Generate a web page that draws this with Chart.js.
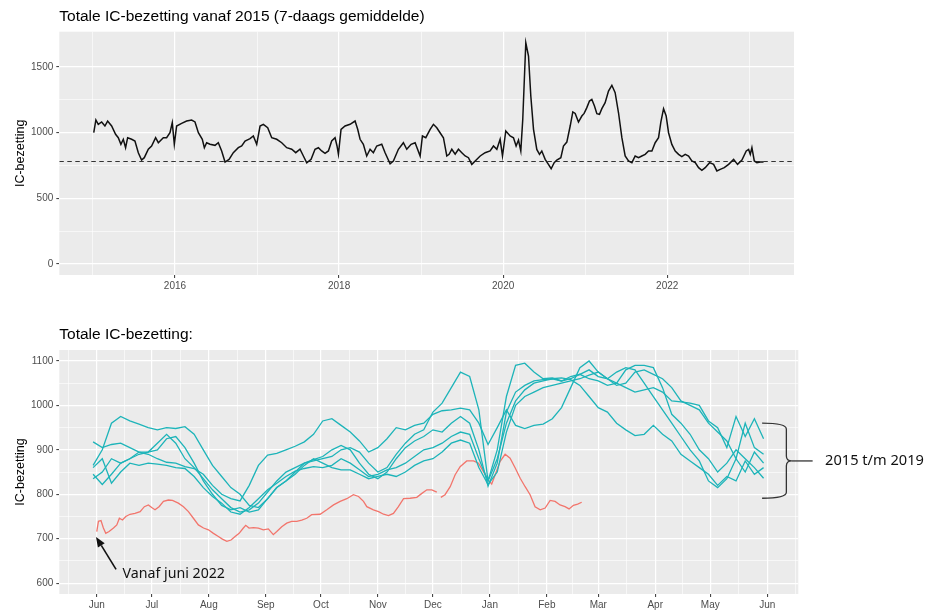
<!DOCTYPE html>
<html><head><meta charset="utf-8">
<script src="https://cdn.jsdelivr.net/npm/chart.js@4/dist/chart.umd.min.js"></script>
<style>
html,body{margin:0;padding:0;background:#fff;}
#wrap{position:relative;width:925px;height:613px;overflow:hidden;}
.box{position:absolute;left:0;width:925px;}
</style></head><body>
<div id="wrap">
<div class="box" style="top:0;height:300px"><canvas id="c1" width="925" height="300"></canvas></div>
<div class="box" style="top:300px;height:313px"><canvas id="c2" width="925" height="313"></canvas></div>
</div>
<script>
// ---------- DATA: top chart (7-day average since 2015) ----------
const topYears = [2015.01,2015.036,2015.065,2015.106,2015.146,2015.179,2015.228,2015.276,2015.309,2015.341,2015.37,2015.398,2015.423,2015.472,2015.512,2015.553,2015.593,2015.626,2015.675,2015.715,2015.764,2015.797,2015.858,2015.898,2015.939,2015.967,2015.992,
2016.02,2016.081,2016.142,2016.203,2016.244,2016.285,2016.333,2016.358,2016.386,2016.427,2016.488,2016.528,2016.569,2016.61,2016.659,2016.711,2016.772,2016.813,2016.854,2016.915,2016.955,2016.996,
2017.037,2017.077,2017.13,2017.179,2017.24,2017.301,2017.362,2017.423,2017.472,2017.524,2017.565,2017.606,2017.659,2017.707,2017.748,2017.788,2017.829,2017.87,2017.91,2017.951,2017.975,2017.992,
2018.024,2018.073,2018.134,2018.195,2018.227,2018.256,2018.296,2018.337,2018.378,2018.418,2018.459,2018.52,2018.561,2018.622,2018.662,2018.723,2018.784,2018.825,2018.878,2018.927,2018.988,
2019.016,2019.057,2019.11,2019.15,2019.191,2019.231,2019.272,2019.313,2019.341,2019.374,2019.415,2019.455,2019.496,2019.537,2019.577,2019.618,2019.659,2019.72,2019.78,2019.841,2019.882,2019.923,2019.963,2019.992,
2020.032,2020.085,2020.126,2020.158,2020.187,2020.215,2020.239,2020.276,2020.309,2020.337,2020.37,2020.41,2020.443,2020.471,2020.512,2020.552,2020.585,2020.622,2020.654,2020.703,2020.735,2020.776,2020.817,2020.849,2020.878,2020.918,2020.959,2020.987,
2021.02,2021.052,2021.081,2021.113,2021.142,2021.174,2021.203,2021.243,2021.284,2021.325,2021.365,2021.406,2021.447,2021.487,2021.528,2021.569,2021.609,2021.65,2021.69,2021.731,2021.772,2021.813,2021.853,2021.894,2021.922,2021.955,2021.987,
2022.016,2022.056,2022.097,2022.138,2022.178,2022.219,2022.26,2022.3,2022.341,2022.382,2022.422,2022.463,2022.516,2022.565,2022.605,2022.646,2022.695,2022.748,2022.809,2022.857,2022.91,2022.963,2022.992,
2023.012,2023.032,2023.061,2023.093,2023.134,2023.174];
const topValues = [999,1096,1063,1081,1050,1088,1050,987,961,911,949,885,961,949,936,847,791,809,873,898,961,923,961,961,999,1076,911,
1050,1070,1088,1096,1081,999,949,885,923,911,903,923,860,776,796,847,885,898,936,954,974,911,
1050,1063,1037,961,949,923,885,873,847,873,822,770,796,873,885,860,842,860,936,961,898,835,
1025,1050,1063,1088,1025,949,911,822,873,847,898,911,847,763,784,873,923,873,911,923,822,
974,961,1025,1063,1037,999,961,822,835,873,835,873,847,822,809,758,784,822,847,860,898,873,949,822,
1012,974,961,898,943,860,1101,1684,1583,1278,1025,872,834,860,796,758,725,771,791,809,898,928,1050,1157,1146,1080,1126,1146,
1190,1240,1253,1202,1144,1139,1182,1228,1316,1360,1304,1151,961,822,784,771,822,809,822,834,860,860,923,961,1080,1182,1126,
999,910,860,834,817,834,822,784,771,733,713,733,771,758,708,720,733,758,796,758,791,860,872,
834,885,784,771,776,776];
const baselineValue = 780;
const topYearTicks = [2015,2016,2017,2018,2019,2020,2021,2022,2023];
const topValueTicks = [0,250,500,750,1000,1250,1500];

// ---------- DATA: bottom chart (season Jun -> Jun, day 0 = 1 June) ----------
const monthDays   = [0,30,61,92,122,153,183,214,245,273,304,334,365];
const monthLabels = ['Jun','Jul','Aug','Sep','Oct','Nov','Dec','Jan','Feb','Mar','Apr','May','Jun'];
const minorDays   = [-15.5,15,45.5,76.5,107,137.5,168,198.5,229.5,259,288.5,319,349.5,380.5];
const bottomValueTicks = [600,650,700,750,800,850,900,950,1000,1050,1100];

const seasonDays = [-2,3,8,13,18,23,28,33,38,43,48,53,58,63,68,73,78,83,88,93,98,103,108,113,118,123,128,133,138,143,148,153,158,163,168,173,178,183,188,193,198,203,208,213,218,223,228,233,238,243,248,253,258,263,268,273,278,283,288,293,298,303,308,313,318,323,328,333,338,343,348,353,358,363];
const season1 = [865,900,960,975,965,958,950,945,950,948,952,935,900,865,840,815,800,775,770,790,815,830,850,870,875,880,885,900,905,895,870,850,860,890,915,935,945,985,1005,1040,1075,1065,990,830,900,1020,1090,1095,1075,1060,1062,1055,1060,1070,1080,1065,1060,1075,1085,1080,1050,1020,990,960,930,900,875,830,815,835,880,850,895,870];
const season2 = [918,905,912,915,905,895,890,880,872,870,862,858,845,820,800,790,785,820,865,888,892,900,908,918,935,965,970,955,940,920,895,905,925,950,945,955,960,980,988,990,994,990,960,912,950,990,955,948,955,958,970,995,1040,1085,1100,1075,1060,1050,1040,1030,1035,1040,1030,1010,1008,1005,1000,965,950,905,975,930,970,925];
const season3 = [845,822,845,870,880,890,895,915,935,915,880,860,835,810,790,770,760,765,780,805,830,850,860,870,878,885,900,910,900,870,845,835,850,880,905,920,930,945,940,960,975,960,900,818,870,985,1030,1045,1055,1058,1060,1055,1065,1070,1060,1055,1045,1050,1080,1090,1090,1085,1040,980,960,935,900,880,850,870,900,880,860,836];
const season4 = [860,880,825,850,870,865,870,868,865,860,858,840,815,795,780,760,755,770,790,810,825,840,852,858,862,860,865,880,870,855,840,845,855,860,870,885,900,905,915,930,940,935,880,830,880,960,1010,1035,1050,1055,1060,1062,1058,1045,1020,995,985,960,945,932,935,955,935,920,890,875,860,845,820,840,830,875,845,860];
const season5 = [835,850,880,870,880,895,895,900,925,930,905,870,830,800,775,765,770,760,765,790,815,830,845,865,880,870,860,855,855,845,835,840,845,840,850,865,875,880,895,915,922,915,860,822,850,940,1000,1020,1030,1040,1045,1050,1055,1060,1068,1075,1060,1045,1050,1075,1080,1070,1060,1040,1010,1000,990,960,940,920,880,960,905,890];

const recentDays = [0,0.9,2.3,3.6,4.9,6.7,9.1,10.9,12.3,14,15.8,18.1,20.8,23.6,25.9,28.1,29.9,31.7,33.9,36.3,39,41.2,44.4,47.2,49.9,52.6,55.3,58.1,60.8,63.5,66.2,68.4,70.8,73.1,75.3,77.5,79.8,81.1,82.9,85.3,88,90.7,93.4,96.1,98,100.7,103.4,106.1,108.9,111.6,114.3,117,121.6,125.2,128.9,132.5,136.1,139.7,142.5,145.2,147,150.6,153.4,156.1,158.8,161.5,164.2,167,170.6,174.2,177,179.7,182.4,185.1,186,187.3,189.6,192.4,195.1,197.8,201.4,205.1,207.8,210.5,213.2,215,216.9,219.6,222.3,225,227.8,230.5,233.2,235.9,238.6,241.4,244.1,246.8,249.5,252.2,254.9,257.1,259.5,261.8,264];
const recentValues = [716,739,741,724,712,716,724,731,746,742,750,755,757,761,772,776,770,765,772,784,787,786,780,772,761,746,731,724,720,712,705,699,694,697,705,712,724,730,724,725,724,720,722,709,716,727,735,739,739,742,746,754,755,765,776,784,790,799,795,784,772,765,761,755,752,757,772,790,791,793,802,810,810,805,null,793,799,817,844,862,875,875,870,851,832,823,844,874,890,881,859,836,817,799,772,765,769,786,784,776,772,767,775,778,782];

// annotation anchors (data coordinates)
const arrowFrom = [10.5, 631];
const arrowTo   = [-0.4, 704];
const arrowText = 'Vanaf juni 2022';
const arrowTextAt = [14, 621];
const braceText = '2015 t/m 2019';
const braceTop = 960, braceBottom = 791, braceMid = 875;
const braceDays = {left:362.2, spine:375.4, tip:378.4, tail:389.7, text:396.5};

// ---------- rendering ----------
const FONT = '"Liberation Sans", Arial, Helvetica, sans-serif';
const ANN_FONT = '"Noto Sans", "Liberation Sans", sans-serif';
const TEAL = '#1DB4B9', RED = '#F2756C';

const panelBg = {
  id:'panelBg',
  beforeDraw(chart){
    const {ctx, chartArea:a} = chart;
    ctx.save(); ctx.fillStyle = '#EBEBEB';
    ctx.fillRect(a.left, a.top, a.right - a.left, a.bottom - a.top);
    ctx.restore();
  }
};

function gridOpts(isMajor){
  return {
    color:'#FFFFFF',
    lineWidth: c => (c.tick && isMajor(c.tick.value)) ? 1.2 : 0.6,
    tickColor: c => (c.tick && isMajor(c.tick.value)) ? '#333333' : 'rgba(0,0,0,0)',
    tickLength:3, tickWidth:1, drawTicks:true
  };
}
const tickFont = {family:FONT, size:10};
const isTopXMajor = v => v % 2 === 0;
const isTopYMajor = v => v % 500 === 0;
const isBotXMajor = v => monthDays.includes(v);
const isBotYMajor = v => v % 100 === 0;

new Chart(document.getElementById('c1'), {
  type:'line',
  data:{datasets:[
    {data: topYears.map((x,i)=>({x, y: topValues[i]})), borderColor:'#111', borderWidth:1.5, pointRadius:0, tension:0},
    {data: [{x:2014.59, y:baselineValue},{x:2023.545, y:baselineValue}], borderColor:'#333', borderWidth:1.2, borderDash:[4.5,3.5], pointRadius:0}
  ]},
  options:{
    responsive:false, animation:false, events:[],
    layout:{padding:{left:0, right:131, top:0, bottom:0}},
    plugins:{
      legend:{display:false}, tooltip:{enabled:false},
      title:{display:true, text:'Totale IC-bezetting vanaf 2015 (7-daags gemiddelde)', align:'start', fullSize:false,
             color:'#000', font:{family:FONT, size:15.5, weight:'normal'}, padding:{top:7, bottom:6.1}}
    },
    scales:{
      x:{type:'linear', min:2014.59, max:2023.545,
         afterBuildTicks(s){ s.ticks = topYearTicks.map(v=>({value:v})); },
         afterFit(s){ s.height = 25; },
         ticks:{autoSkip:false, maxRotation:0, color:'#4D4D4D', font:tickFont, padding:2,
                callback:v => isTopXMajor(v) ? String(v) : ''},
         grid:gridOpts(isTopXMajor), border:{display:false}},
      y:{type:'linear', min:-84, max:1768,
         afterBuildTicks(s){ s.ticks = topValueTicks.map(v=>({value:v})); },
         afterFit(s){ s.width = 59.3; },
         ticks:{autoSkip:false, color:'#4D4D4D', font:tickFont, padding:3,
                callback:v => isTopYMajor(v) ? String(v) : ''},
         title:{display:true, text:'IC-bezetting', color:'#000', font:{family:FONT, size:12.5}, padding:{top:13.5, bottom:0}},
         grid:gridOpts(isTopYMajor), border:{display:false}}
    }
  },
  plugins:[panelBg]
});

const annot = {
  id:'annot',
  afterDraw(chart){
    const {ctx, scales:{x, y}} = chart;
    ctx.save();
    // arrow
    const x0 = x.getPixelForValue(arrowFrom[0]), y0 = y.getPixelForValue(arrowFrom[1]);
    const x1 = x.getPixelForValue(arrowTo[0]),   y1 = y.getPixelForValue(arrowTo[1]);
    const ang = Math.atan2(y1 - y0, x1 - x0), hl = 10, hw = 4;
    const bx = x1 - hl*Math.cos(ang), by = y1 - hl*Math.sin(ang);
    ctx.strokeStyle = '#111'; ctx.fillStyle = '#111'; ctx.lineWidth = 1.6;
    ctx.beginPath(); ctx.moveTo(x0, y0); ctx.lineTo(bx, by); ctx.stroke();
    ctx.beginPath(); ctx.moveTo(x1, y1);
    ctx.lineTo(bx + hw*Math.sin(ang), by - hw*Math.cos(ang));
    ctx.lineTo(bx - hw*Math.sin(ang), by + hw*Math.cos(ang));
    ctx.closePath(); ctx.fill();
    ctx.font = '14.2px ' + ANN_FONT; ctx.textBaseline = 'middle'; ctx.textAlign = 'left';
    ctx.fillText(arrowText, x.getPixelForValue(arrowTextAt[0]), y.getPixelForValue(arrowTextAt[1]));
    // brace
    const xl = x.getPixelForValue(braceDays.left), xs = x.getPixelForValue(braceDays.spine);
    const xt = x.getPixelForValue(braceDays.tip), xe = x.getPixelForValue(braceDays.tail);
    const yt = y.getPixelForValue(braceTop), yb = y.getPixelForValue(braceBottom), ym = y.getPixelForValue(braceMid);
    ctx.strokeStyle = '#333'; ctx.lineWidth = 1.3;
    ctx.beginPath();
    ctx.moveTo(xl, yt);
    ctx.quadraticCurveTo(xs, yt, xs, yt + 6);
    ctx.lineTo(xs, ym - 5);
    ctx.quadraticCurveTo(xs, ym, xt, ym);
    ctx.quadraticCurveTo(xs, ym, xs, ym + 5);
    ctx.lineTo(xs, yb - 6);
    ctx.quadraticCurveTo(xs, yb, xl, yb);
    ctx.stroke();
    ctx.beginPath(); ctx.moveTo(xt, ym); ctx.lineTo(xe, ym); ctx.stroke();
    ctx.fillStyle = '#111'; ctx.font = '14.6px ' + ANN_FONT;
    ctx.fillText(braceText, x.getPixelForValue(braceDays.text), ym);
    ctx.restore();
  }
};

const seasonSet = (vals) => ({data: seasonDays.map((d,i)=>({x:d, y:vals[i]})), borderColor:TEAL, borderWidth:1.3, pointRadius:0, tension:0});

new Chart(document.getElementById('c2'), {
  type:'line',
  data:{datasets:[
    seasonSet(season1), seasonSet(season2), seasonSet(season3), seasonSet(season4), seasonSet(season5),
    {data: recentDays.map((d,i)=>({x:d, y:recentValues[i]})), borderColor:RED, borderWidth:1.3, pointRadius:0, tension:0, spanGaps:false}
  ]},
  options:{
    responsive:false, animation:false, events:[],
    layout:{padding:{left:0, right:126.7, top:0, bottom:0}},
    plugins:{
      legend:{display:false}, tooltip:{enabled:false},
      title:{display:true, text:'Totale IC-bezetting:', align:'start', fullSize:false,
             color:'#000', font:{family:FONT, size:15.5, weight:'normal'}, padding:{top:25, bottom:6.4}}
    },
    scales:{
      x:{type:'linear', min:-20.4, max:381.9,
         afterBuildTicks(s){ s.ticks = monthDays.concat(minorDays).sort((a,b)=>a-b).map(v=>({value:v})); },
         afterFit(s){ s.height = 19; },
         ticks:{autoSkip:false, maxRotation:0, color:'#4D4D4D', font:tickFont, padding:2,
                callback:v => { const i = monthDays.indexOf(v); return i >= 0 ? monthLabels[i] : ''; }},
         grid:gridOpts(isBotXMajor), border:{display:false}},
      y:{type:'linear', min:575.5, max:1124.7,
         afterBuildTicks(s){ s.ticks = bottomValueTicks.map(v=>({value:v})); },
         afterFit(s){ s.width = 59.3; },
         ticks:{autoSkip:false, color:'#4D4D4D', font:tickFont, padding:3,
                callback:v => isBotYMajor(v) ? String(v) : ''},
         title:{display:true, text:'IC-bezetting', color:'#000', font:{family:FONT, size:12.5}, padding:{top:13.5, bottom:0}},
         grid:gridOpts(isBotYMajor), border:{display:false}}
    }
  },
  plugins:[panelBg, annot]
});
</script>
</body></html>
